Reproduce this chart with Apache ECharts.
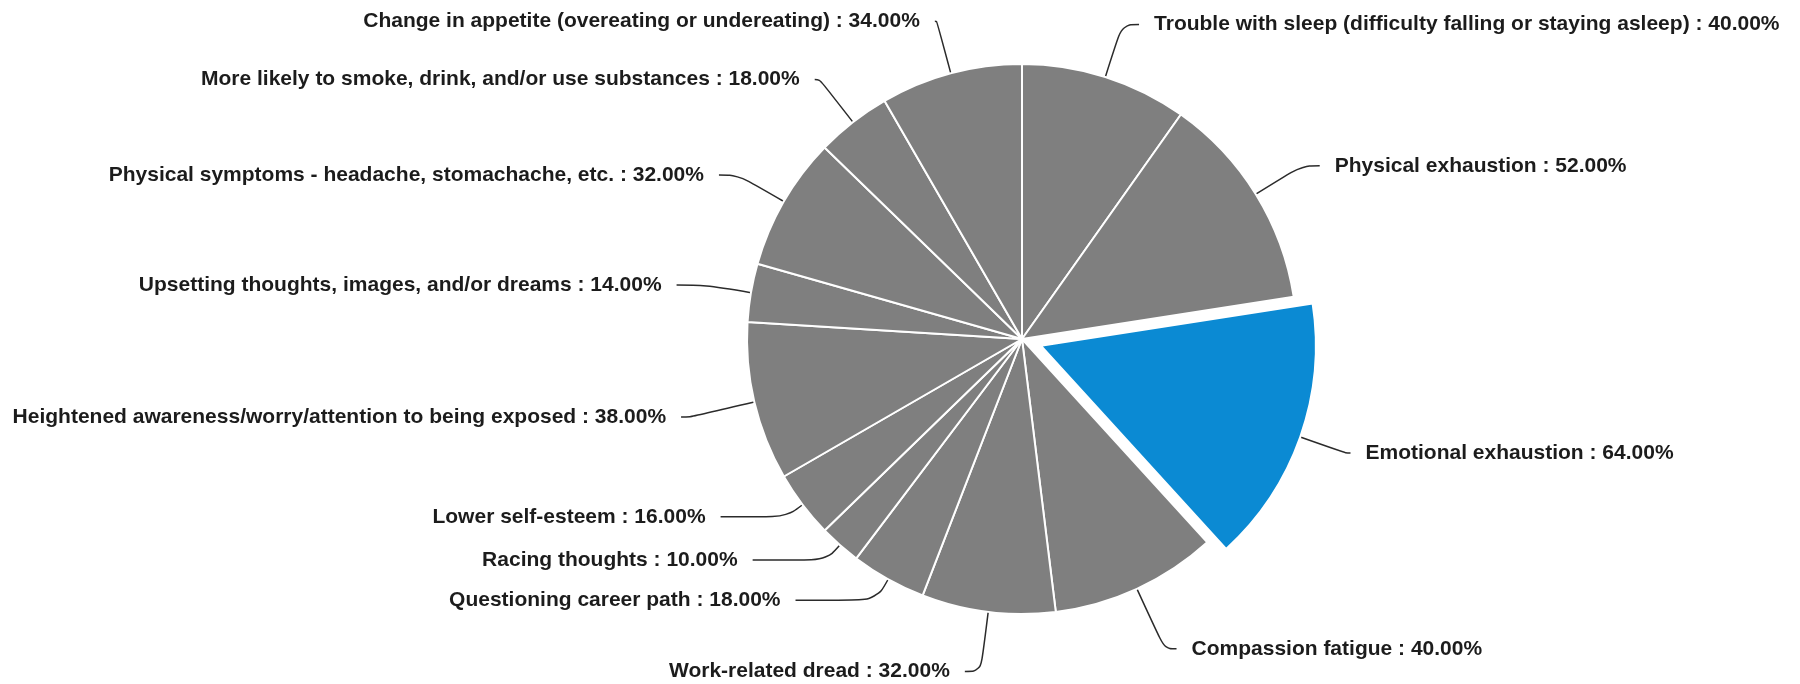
<!DOCTYPE html>
<html>
<head>
<meta charset="utf-8">
<title>Reported symptoms</title>
<script src="https://cdn.jsdelivr.net/npm/echarts@6/dist/echarts.min.js"></script>
<style>
  html, body { margin: 0; padding: 0; background: #ffffff; }
  #chart { width: 1800px; height: 684px; }
</style>
</head>
<body>
<div id="chart"></div>
<script>
// Symptom categories, clockwise from 12 o'clock
const categories = [
  'Trouble with sleep (difficulty falling or staying asleep)',
  'Physical exhaustion',
  'Emotional exhaustion',
  'Compassion fatigue',
  'Work-related dread',
  'Questioning career path',
  'Racing thoughts',
  'Lower self-esteem',
  'Heightened awareness/worry/attention to being exposed',
  'Upsetting thoughts, images, and/or dreams',
  'Physical symptoms - headache, stomachache, etc.',
  'More likely to smoke, drink, and/or use substances',
  'Change in appetite (overeating or undereating)'
];

// Share of respondents reporting each symptom (%)
const percentages = [40, 52, 64, 40, 32, 18, 10, 16, 38, 14, 32, 18, 34];

// The slice pulled out of the pie
const highlighted = 'Emotional exhaustion';

// Connector geometry per slice: radial leg and horizontal leg (px)
const connectorRadial = [55, 54, 48, 66, 60, 24, 20, 20, 66, 45, 53, 54, 54];
const connectorHorizontal = [17, 18, 5, 12, 16, 81, 74, 66, 9, 30, 19, 5, 2];

const GRAY = '#7f7f7f';
const BLUE = '#0b8ad3';

const seriesData = categories.map((name, i) => {
  const isHighlighted = name === highlighted;
  return {
    name: name,
    value: percentages[i],
    selected: isHighlighted,
    itemStyle: { color: isHighlighted ? BLUE : GRAY },
    labelLine: { length: connectorRadial[i], length2: connectorHorizontal[i] }
  };
});

const chart = echarts.init(document.getElementById('chart'), null, { renderer: 'canvas' });

chart.setOption({
  backgroundColor: '#ffffff',
  animation: false,
  series: [{
    type: 'pie',
    center: [1022, 339],
    radius: 275,
    startAngle: 90,
    clockwise: true,
    selectedMode: 'single',
    selectedOffset: 20,
    avoidLabelOverlap: true,
    itemStyle: {
      borderColor: '#ffffff',
      borderWidth: 2
    },
    label: {
      show: true,
      position: 'outside',
      distanceToLabelLine: 15,
      color: '#1c1c1c',
      fontFamily: '"Liberation Sans", Arial, sans-serif',
      fontWeight: 'bold',
      fontSize: 21,
      formatter: p => p.name + ' : ' + p.value.toFixed(2) + '%'
    },
    labelLine: {
      show: true,
      smooth: 0.4,
      lineStyle: { color: '#2b2b2b', width: 1.5 }
    },
    emphasis: { disabled: true },
    select: { itemStyle: { color: BLUE } },
    data: seriesData
  }]
});
</script>
</body>
</html>
